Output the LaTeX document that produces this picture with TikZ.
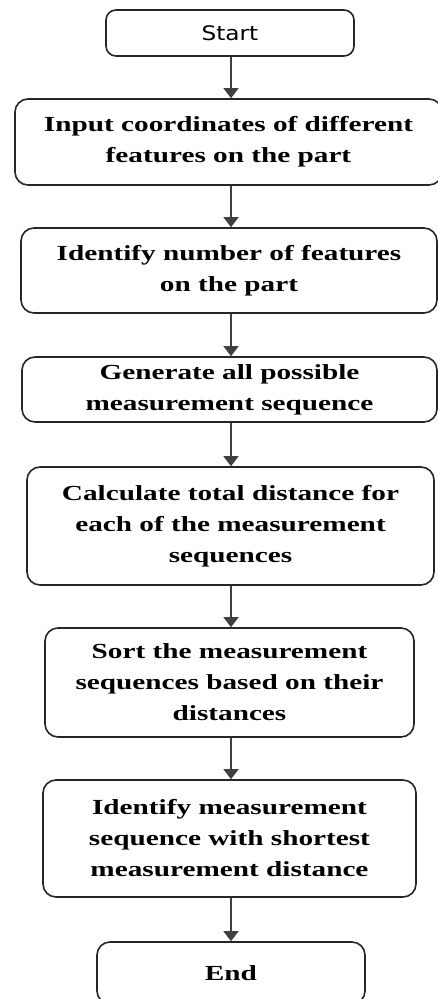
\documentclass[tikz,border=0pt]{standalone}
\usepackage{fontspec}
\setmainfont{Liberation Serif}
\newfontfamily\boxfont[FakeStretch=1.36]{Liberation Serif}
\newfontfamily\startfont[FakeStretch=1.16]{DejaVu Sans}
\usetikzlibrary{arrows.meta}
\begin{document}
\begin{tikzpicture}[x=1pt,y=-1pt,
  box/.style={draw=black!85, line width=1.6pt, rounded corners=13pt, inner sep=0pt,
    align=center, font=\boxfont\bfseries\fontsize{21.5}{31}\selectfont},
  arr/.style={draw=black!75, line width=1.2pt, -{Triangle[width=15pt,length=10pt]}}]
\path[use as bounding box] (0,0) rectangle (438,999);
\clip (0,0) rectangle (438,999);
\coordinate (mid) at (231,0);
\node[box, rounded corners=10pt, minimum width=248pt, minimum height=46pt,
  font=\startfont\fontsize{20}{24}\selectfont] (start) at (230,33) {Start};
\node[box, minimum width=427pt, minimum height=86pt] (input) at (228.5,142)
  {Input coordinates of different\\features on the part};
\node[box, minimum width=416pt, minimum height=85pt] (ident) at (229,270.5)
  {Identify number of features\\on the part};
\node[box, minimum width=415pt, minimum height=65pt] (gen) at (229.5,389.5)
  {Generate all possible\\measurement sequence};
\node[box, minimum width=407pt, minimum height=118pt] (calc) at (230.5,526)
  {Calculate total distance for\\each of the measurement\\sequences};
\node[box, minimum width=369pt, minimum height=109pt] (sort) at (229.5,682.5)
  {Sort the measurement\\sequences based on their\\distances};
\node[box, minimum width=373pt, minimum height=117pt] (short) at (229.5,838.5)
  {Identify measurement\\sequence with shortest\\measurement distance};
\node[box, minimum width=268pt, minimum height=62pt] (end) at (231,973) {End};
\foreach \a/\b in {start/input, input/ident, ident/gen, gen/calc, calc/sort, sort/short, short/end}
  \draw[arr] (\a.south -| mid) -- (\b.north -| mid);
\end{tikzpicture}
\end{document}
